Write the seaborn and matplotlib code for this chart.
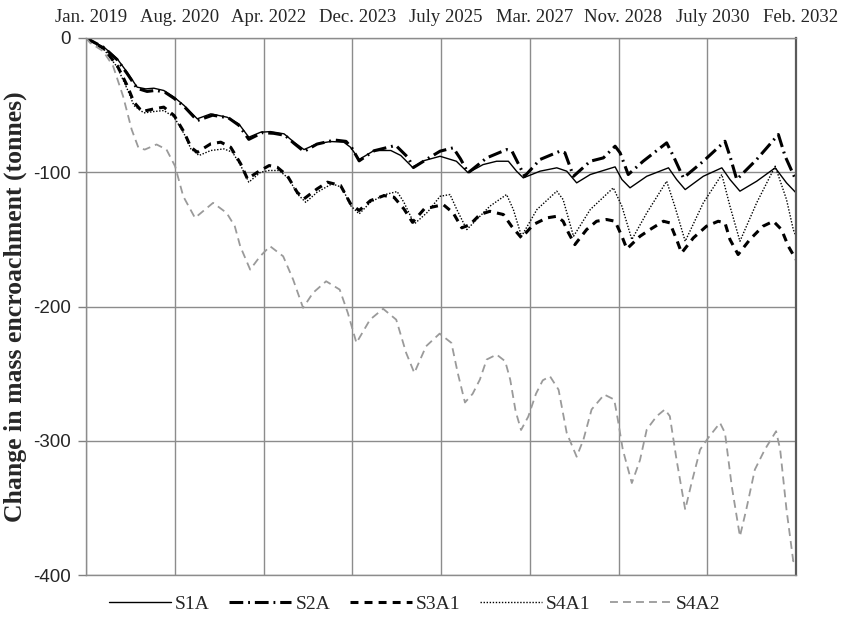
import matplotlib
matplotlib.use("Agg")
import matplotlib.pyplot as plt
import matplotlib.transforms as mtransforms
import seaborn as sns
import numpy as np
import pandas as pd

# Time axis in months since January 2019
tick_labels = ["Jan. 2019", "Aug. 2020", "Apr. 2022", "Dec. 2023", "July 2025",
               "Mar. 2027", "Nov. 2028", "July 2030", "Feb. 2032"]
x_max = 157

s1a_month = [0, 4.0, 6.9, 9.1, 11.3, 13.2, 15.0, 17.2, 19.5, 21.7, 24.6, 27.6, 31.2, 33.8,
             36.0, 38.6, 40.8, 43.8, 46.0, 48.2, 51.1, 54.1, 57.0, 58.5, 60.4, 63.7, 67.4,
             69.6, 72.2, 74.8, 78.3, 81.9, 84.5, 87.8, 90.8, 93.4, 95.2, 96.7, 100.4, 104.1,
             106.3, 108.5, 111.5, 117.0, 118.5, 120.3, 124.0, 128.8, 130.6, 132.5, 136.5,
             140.6, 142.4, 144.6, 148.3, 152.4, 154.9, 157]
s1a_value = [0, -6.9, -15.5, -25.5, -36.6, -37.9, -37.4, -39.1, -44.1, -50.3, -60.2, -56.5,
             -59.0, -64.0, -73.9, -70.2, -69.7, -71.4, -77.6, -83.1, -78.8, -77.1, -77.6,
             -81.4, -90.5, -83.8, -83.8, -87.5, -96.3, -91.3, -88.1, -91.8, -100.4, -94.3,
             -91.8, -91.8, -99.2, -104.2, -99.2, -96.7, -99.2, -107.9, -101.7, -96.0, -105.4,
             -111.6, -103.0, -96.7, -105.4, -112.9, -103.0, -96.7, -105.4, -114.1, -106.7,
             -96.7, -107.9, -115.3]

s2a_month = [0, 4.0, 6.9, 9.1, 11.3, 13.5, 15.5, 17.5, 19.5, 21.7, 24.6, 28.0, 31.5, 33.8,
             36.0, 39.0, 41.5, 44.0, 46.0, 48.2, 51.1, 55.0, 57.5, 58.8, 60.4, 63.7, 68.5,
             71.2, 72.4, 75.5, 78.3, 81.2, 82.8, 84.5, 88.6, 93.0, 94.2, 97.0, 100.4, 104.8,
             105.9, 107.8, 111.5, 114.4, 117.0, 118.1, 119.9, 123.2, 128.4, 129.9, 132.1,
             136.5, 141.3, 142.4, 143.9, 148.3, 153.1, 154.6, 157]
s2a_value = [0, -7.2, -16.2, -26.5, -37.5, -39.8, -39.0, -40.5, -45.0, -51.0, -61.5, -57.5,
             -59.5, -65.0, -75.5, -70.5, -71.0, -72.5, -78.5, -84.5, -79.0, -76.0, -77.0,
             -82.0, -91.5, -84.0, -80.0, -89.0, -96.5, -90.0, -84.3, -81.8, -90.0, -100.4,
             -89.3, -83.1, -84.3, -103.0, -90.5, -84.3, -85.5, -103.0, -91.8, -89.3, -80.6,
             -85.5, -101.7, -91.8, -78.1, -88.1, -104.2, -91.8, -76.9, -88.1, -105.4, -90.5,
             -71.9, -88.1, -106.0]

s3a1_month = [0, 4.0, 6.9, 9.1, 10.6, 12.4, 15.0, 17.2, 19.5, 21.7, 23.2, 24.6, 27.6, 29.8,
              32.0, 34.2, 35.7, 37.9, 40.5, 42.3, 44.5, 46.7, 48.2, 51.1, 53.4, 56.3, 58.5,
              60.4, 62.9, 65.9, 68.1, 70.3, 72.2, 74.8, 79.0, 81.2, 83.1, 84.9, 87.1, 89.3,
              92.3, 94.1, 96.3, 98.9, 101.9, 104.1, 105.5, 106.7, 108.1, 110.7, 112.9, 115.1,
              117.0, 118.5, 119.6, 122.5, 124.7, 127.7, 129.1, 130.6, 131.7, 134.3, 137.2,
              139.8, 141.3, 142.4, 144.2, 146.8, 149.7, 152.0, 153.8, 155.3, 157]
s3a1_value = [0, -8.1, -20.5, -35.4, -47.8, -54.8, -52.8, -51.5, -57.8, -70.2, -81.4, -85.1,
              -78.8, -77.6, -81.4, -93.7, -104.9, -100.0, -95.0, -96.3, -102.5, -114.9,
              -119.8, -112.4, -107.4, -109.9, -123.5, -128.5, -121.1, -117.4, -118.6, -127.3,
              -137.3, -127.3, -124.1, -130.3, -141.4, -139.0, -131.5, -129.1, -131.5, -140.2,
              -148.9, -139.0, -134.0, -132.8, -136.5, -145.2, -153.9, -142.7, -136.5, -135.2,
              -136.5, -147.7, -157.1, -147.7, -142.7, -136.5, -137.7, -150.1, -160.1, -148.9,
              -140.2, -136.5, -137.7, -150.1, -161.3, -150.1, -140.2, -136.5, -142.7, -155.1,
              -165.0]

s4a1_month = [0, 4.0, 6.9, 9.1, 10.6, 12.8, 15.0, 17.2, 19.5, 21.7, 23.2, 25.0, 27.6, 30.5,
              32.4, 34.2, 36.0, 38.6, 40.5, 42.7, 44.9, 46.7, 48.6, 51.1, 54.4, 56.6, 58.5,
              60.4, 62.9, 65.9, 68.8, 70.3, 72.6, 75.5, 78.3, 80.5, 82.0, 84.2, 86.4, 89.3,
              93.0, 94.5, 96.3, 99.7, 104.1, 105.5, 107.8, 111.5, 116.6, 118.5, 120.7, 124.0,
              128.4, 130.2, 132.5, 136.5, 140.6, 142.4, 144.6, 148.3, 152.4, 154.9, 156.4, 157]
s4a1_value = [0, -8.6, -21.7, -37.9, -50.3, -55.8, -54.8, -54.0, -59.0, -71.4, -82.6, -87.5,
              -83.8, -82.6, -85.1, -95.0, -107.4, -100.0, -98.7, -98.7, -104.9, -116.1,
              -122.4, -114.9, -108.6, -111.2, -124.8, -131.0, -122.4, -116.8, -114.4, -122.4,
              -138.5, -129.8, -117.9, -116.6, -127.8, -142.7, -135.2, -125.3, -116.6, -127.8,
              -147.7, -127.8, -114.1, -120.3, -147.7, -127.8, -111.6, -125.3, -150.1, -130.3,
              -106.7, -125.3, -151.4, -122.8, -101.7, -125.3, -151.4, -122.8, -95.5, -120.3,
              -142.7, -147.7]

s4a2_month = [0, 0.9, 3.8, 6.0, 8.2, 10.1, 11.6, 13.0, 15.6, 17.8, 19.7, 21.5, 24.1, 28.1,
              31.1, 32.9, 34.1, 36.3, 38.5, 40.7, 43.6, 45.8, 48.0, 50.2, 53.1, 56.1, 57.9,
              59.8, 62.8, 65.7, 68.6, 70.8, 72.6, 75.2, 78.2, 80.8, 82.2, 83.8, 85.5, 87.1,
              88.6, 90.8, 92.7, 93.8, 95.0, 96.2, 97.8, 99.5, 101.0, 102.6, 104.5, 106.3,
              108.5, 110.0, 111.8, 114.6, 116.8, 117.6, 118.7, 120.7, 122.5, 124.0, 126.2,
              128.0, 129.1, 130.6, 132.5, 133.9, 135.8, 137.6, 140.2, 141.3, 142.8, 144.6,
              146.0, 147.9, 150.1, 152.6, 153.5, 154.9, 156.4, 157]
s4a2_value = [0, -3.6, -9.8, -21.0, -43.4, -68.2, -81.8, -83.1, -79.3, -83.1, -95.5, -117.9,
              -134.0, -122.8, -130.3, -140.2, -155.1, -172.5, -162.6, -155.1, -162.6, -179.9,
              -201.0, -189.8, -181.2, -187.4, -204.8, -227.1, -209.8, -201.7, -209.8, -234.6,
              -249.5, -229.6, -220.2, -227.1, -249.5, -271.5, -265.0, -254.4, -239.5, -235.8,
              -240.8, -254.4, -278.0, -292.0, -282.0, -265.0, -255.0, -252.0, -262.0, -294.2,
              -311.9, -299.1, -276.7, -265.6, -269.3, -284.2, -306.6, -331.5, -314.4, -291.6,
              -281.7, -276.7, -281.7, -314.4, -351.3, -331.5, -306.6, -297.8, -286.7, -294.2,
              -334.0, -371.2, -351.3, -321.5, -306.6, -292.9, -306.6, -351.3, -389.8, -386.0]

series = [
    ("S1A", s1a_month, s1a_value, dict(color="black", lw=1.0, ls="-")),
    ("S2A", s2a_month, s2a_value, dict(color="black", lw=2.2, ls=(0, (4.5, 1.6, 0.6, 1.6)))),
    ("S3A1", s3a1_month, s3a1_value, dict(color="black", lw=2.2, ls=(0, (2.6, 2.0)))),
    ("S4A1", s4a1_month, s4a1_value, dict(color="black", lw=1.0, ls=(0, (1.0, 1.2)))),
    ("S4A2", s4a2_month, s4a2_value, dict(color="#9a9a9a", lw=1.3, ls=(0, (4.4, 2.8)))),
]

sns.set_style("white")
plt.rcParams["font.family"] = ["Liberation Serif", "DejaVu Serif"]

fig = plt.figure(figsize=(8.43, 6.27), dpi=100)
ax = fig.add_axes([86 / 843, 1 - 575 / 627, 710 / 843, 537 / 627])

for name, months, values, style in series:
    df = pd.DataFrame({"month": months, "value": values})
    sns.lineplot(data=df, x="month", y="value", ax=ax, estimator=None, sort=False,
                 color=style["color"], linewidth=style["lw"], linestyle=style["ls"],
                 label=name, solid_joinstyle="round", dash_joinstyle="round")

ax.set_xlim(0, x_max)
ax.set_ylim(-400, 0)
ax.set_xticks(np.linspace(0, x_max, len(tick_labels)))
ax.set_xticklabels(tick_labels, fontsize=13.5)
ax.xaxis.tick_top()
ax.tick_params(axis="x", length=0, pad=9)
# nudge the date labels slightly to the right of their gridlines
shift = mtransforms.ScaledTranslation(5 / 100, 0, fig.dpi_scale_trans)
for lbl in ax.get_xticklabels():
    lbl.set_transform(lbl.get_transform() + shift)

ax.set_yticks([0, -100, -200, -300, -400])
ax.set_yticklabels(["0", "-100", "-200", "-300", "-400"], fontsize=13.5,
                   family=["Liberation Sans", "DejaVu Sans"])
ax.tick_params(axis="y", length=6, width=1.0, color="#808080", pad=5, left=True)
ax.set_xlabel("")
ax.set_ylabel("Change in mass encroachment (tonnes)", fontsize=18.5, fontweight="bold",
              labelpad=4)

ax.grid(True, color="#8c8c8c", linewidth=1.0)
for side in ["left", "top", "bottom"]:
    ax.spines[side].set_color("#8c8c8c")
    ax.spines[side].set_linewidth(1.0)
ax.spines["right"].set_color("#5a5a5a")
ax.spines["right"].set_linewidth(1.6)

leg_handles, leg_labels = ax.get_legend_handles_labels()
ax.get_legend().remove()
fig.legend(leg_handles, leg_labels, loc="center", bbox_to_anchor=(0.492, 0.036), ncol=5,
           frameon=False, fontsize=14, handlelength=3.2, handletextpad=0.2,
           columnspacing=1.0)

fig.savefig("out.png", dpi=100)
